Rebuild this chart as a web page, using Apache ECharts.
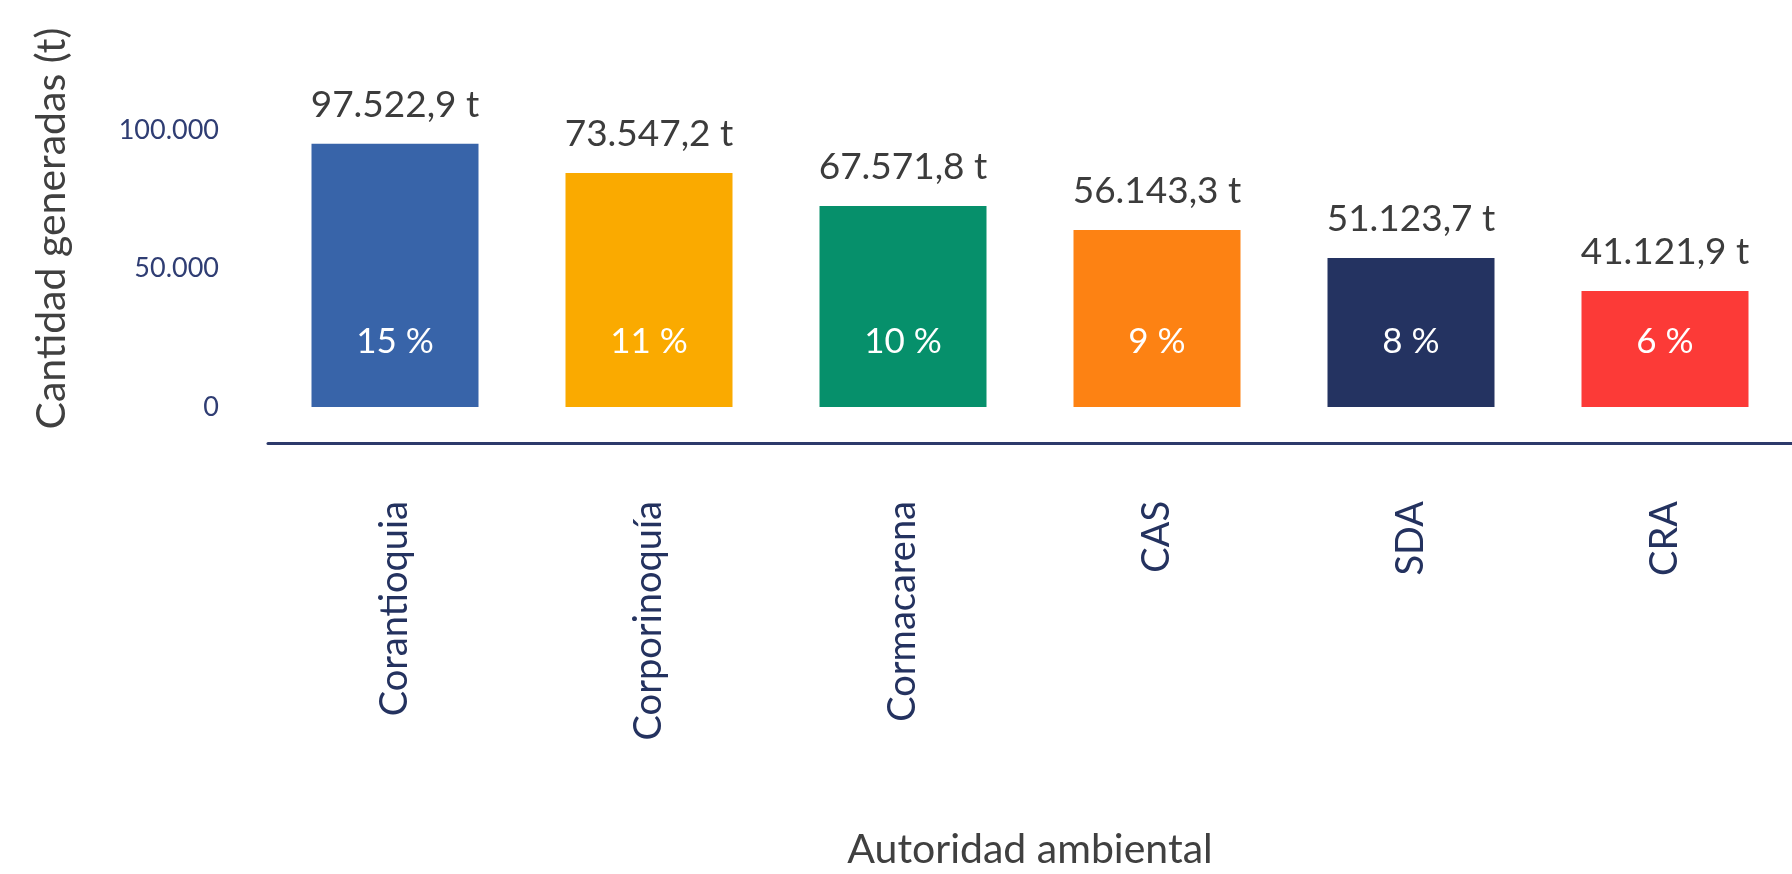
<!DOCTYPE html>
<html>
<head>
<meta charset="utf-8">
<script src="https://cdn.jsdelivr.net/npm/echarts@6/dist/echarts.min.js"></script>
<style>
  html, body { margin: 0; padding: 0; background: #fff; }
  #chart { width: 1792px; height: 874px; }
</style>
</head>
<body>
<div id="chart"></div>
<script>
// categories and values
var categories = ["Corantioquia", "Corporinoquía", "Cormacarena", "CAS", "SDA", "CRA"];
// bar heights as drawn against the y axis
var barHeights = [95000, 84500, 72600, 63900, 53800, 41900];
// amounts printed above the bars (t)
var amounts = [97522.9, 73547.2, 67571.8, 56143.3, 51123.7, 41121.9];
// share printed inside the bars (%)
var shares = [15, 11, 10, 9, 8, 6];
var yTicks = [0, 50000, 100000];

var barColors = ["#3864a9", "#faaa00", "#06906b", "#fd8213", "#243361", "#fc3a37"];
var fontName = "Lato, 'Open Sans', sans-serif";

// 97522.9 -> "97.522,9"
function fmt(num, dec) {
  var s = num.toFixed(dec);
  var parts = s.split(".");
  var intPart = parts[0].replace(/\B(?=(\d{3})+(?!\d))/g, ".");
  return parts.length > 1 ? intPart + "," + parts[1] : intPart;
}

var chartInstance = echarts.init(document.getElementById("chart"));

var barData = [];
for (var i = 0; i < categories.length; i++) {
  barData.push({
    value: barHeights[i],
    itemStyle: { color: barColors[i] },
  });
}

var option = {
  backgroundColor: "#fff",
  animation: false,
  grid: {
    left: 268,
    right: 0,
    top: 130,
    bottom: 467,
  },
  xAxis: {
    type: "category",
    data: categories,
    offset: 36,
    axisLine: {
      show: true,
      onZero: false,
      lineStyle: { color: "#2d3a6b", width: 3 },
    },
    axisTick: { show: false },
    axisLabel: {
      rotate: 90,
      margin: 58,
      color: "#24325f",
      fontSize: 38,
      fontFamily: fontName,
    },
    name: "Autoridad ambiental",
    nameLocation: "middle",
    nameGap: 386,
    nameTextStyle: {
      color: "#404040",
      fontSize: 41,
      fontFamily: fontName,
    },
  },
  yAxis: {
    type: "value",
    min: yTicks[0],
    max: yTicks[yTicks.length - 1],
    interval: 50000,
    axisLine: { show: false },
    axisTick: { show: false },
    splitLine: { show: false },
    axisLabel: {
      margin: 49,
      color: "#2f3d73",
      fontSize: 27,
      fontFamily: fontName,
      formatter: function (v) {
        return fmt(v, 0);
      },
    },
    name: "Cantidad generadas (t)",
    nameLocation: "middle",
    nameGap: 196,
    nameTextStyle: {
      color: "#404040",
      fontSize: 41,
      fontFamily: fontName,
      padding: [0, 0, 0, 80],
    },
  },
  series: [
    {
      name: "cantidad",
      type: "bar",
      barWidth: 167,
      data: barData,
      label: {
        show: true,
        position: "top",
        distance: 20,
        color: "#3c3c3c",
        fontSize: 37,
        fontFamily: fontName,
        formatter: function (p) {
          return fmt(amounts[p.dataIndex], 1) + " t";
        },
      },
    },
    {
      name: "porcentaje",
      type: "bar",
      barWidth: 167,
      barGap: "-100%",
      data: barHeights,
      itemStyle: { color: "rgba(0,0,0,0)" },
      label: {
        show: true,
        position: "insideBottom",
        distance: 48,
        color: "#fff",
        fontSize: 35,
        fontFamily: fontName,
        formatter: function (p) {
          return shares[p.dataIndex] + " %";
        },
      },
    },
  ],
};

chartInstance.setOption(option);
</script>
</body>
</html>
